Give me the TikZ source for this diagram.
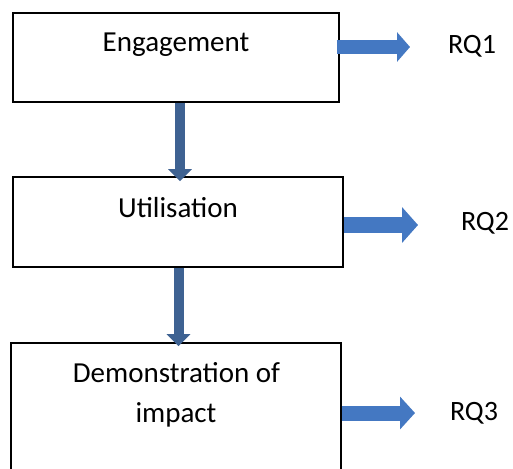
\documentclass[tikz,border=0pt]{standalone}
\usepackage{fontspec}
\setmainfont{Carlito}
\usetikzlibrary{arrows.meta}
\definecolor{rblue}{HTML}{4478C2}
\definecolor{dblue}{HTML}{3E6292}
\tikzset{
  box/.style={draw=black, line width=1.7pt, fill=white, inner sep=0pt},
  lbl/.style={font=\fontsize{29}{35}\selectfont, inner sep=0pt, anchor=base},
  rq/.style={font=\fontsize{28}{33}\selectfont, inner sep=0pt},
  darrow/.style={draw=dblue, line width=10pt, -{Triangle[width=23pt,length=12pt]}},
  rarrow/.style={draw=rblue, line width=15pt, -{Triangle[width=32pt,length=15pt]}}
}
\begin{document}
\begin{tikzpicture}[x=1pt,y=-1pt]
\clip (0,0) rectangle (513,468);
\fill[white] (0,0) rectangle (513,468);
% boxes
\node[box, minimum width=326pt, minimum height=89pt] (b1) at (176,57.5) {};
\node[box, minimum width=330pt, minimum height=90pt] (b2) at (178,222) {};
\node[box, minimum width=330pt, minimum height=157pt] (b3) at (176,421.5) {};
% texts
\node[lbl] (t1) at (176,52) {Engagement};
\node[lbl] (t2) at (178,217) {Utilisation};
\node[lbl] (t3a) at (176.5,382) {Demonstration of};
\node[lbl] (t3b) at (176,422) {impact};
\node[rq] (rq1) at (472,46) {RQ1};
\node[rq] (rq2) at (485,223) {RQ2};
\node[rq] (rq3) at (474,413) {RQ3};
% down arrows
\draw[darrow] (b1.south -| 180,0) -- ([yshift=-5pt]b2.north -| 180,0);
\draw[darrow] (b2.south -| 178.5,0) -- ([yshift=-4pt]b3.north -| 178.5,0);
% right arrows
\coordinate (r1) at (410,47);
\coordinate (r2) at (418,225);
\coordinate (r3) at (415,413);
\draw[rarrow, line width=14pt, -{Triangle[width=29pt,length=13pt]}] (b1.east |- r1) ++(-3,0) -- (r1);
\draw[rarrow, line width=16pt, -{Triangle[width=35pt,length=16pt]}] (b2.east |- r2) -- (r2);
\draw[rarrow] (b3.east |- r3) -- (r3);
\end{tikzpicture}
\end{document}
